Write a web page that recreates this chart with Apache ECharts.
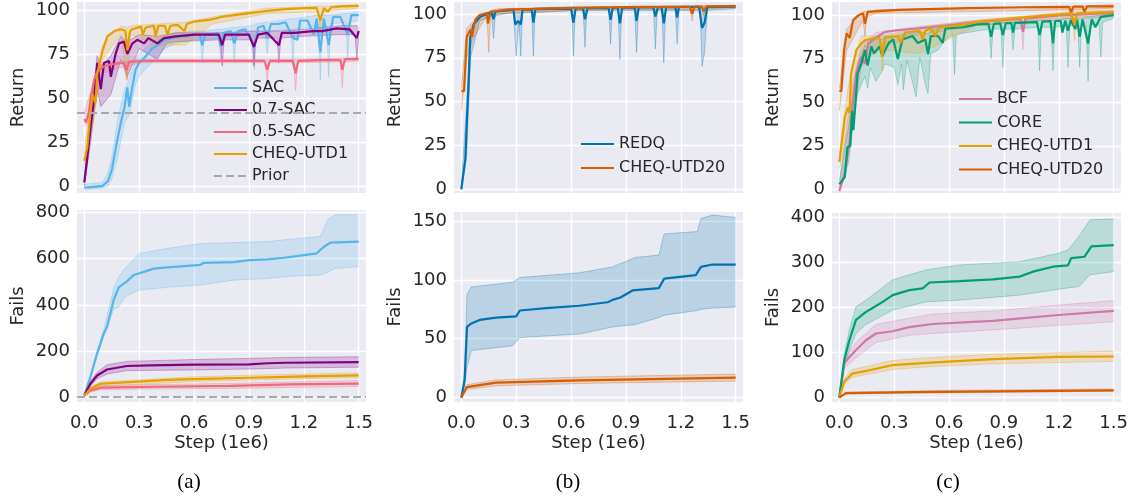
<!DOCTYPE html>
<html>
<head>
<meta charset="utf-8">
<script src="https://cdn.jsdelivr.net/npm/echarts@6/dist/echarts.min.js"></script>
<style>
  html, body { margin: 0; padding: 0; background: #fff; }
  #chart { width: 1133px; height: 498px; }
</style>
</head>
<body>
<div id="chart"></div>
<script>
// ---- ticks ----
var xTicks = [0, 0.3, 0.6, 0.9, 1.2, 1.5];
var retTicks = [0, 25, 50, 75, 100];
var failTicksA = [0, 200, 400, 600, 800];
var failTicksB = [0, 50, 100, 150];
var failTicksC = [0, 100, 200, 300, 400];

// ---- (a) return ----
var retSAC = [[0,-1],[0.05,-0.5],[0.1,0],[0.13,3],[0.15,9],[0.18,26],[0.2,36],[0.22,45],[0.235,56],[0.245,45],[0.26,55],[0.28,66],[0.3,70],[0.33,73],[0.37,78],[0.4,80],[0.44,83],[0.48,84],[0.52,85],[0.56,85],[0.6,86],[0.63,86],[0.645,80],[0.66,86],[0.7,86],[0.73,87],[0.745,79],[0.76,87],[0.8,88],[0.82,81],[0.84,88],[0.88,89],[0.93,79],[0.95,90],[0.98,91],[1.0,84],[1.02,92],[1.06,92],[1.1,93],[1.14,84],[1.165,83],[1.18,94],[1.22,94],[1.255,86],[1.27,95],[1.29,76],[1.31,95],[1.336,80],[1.36,96],[1.4,96],[1.44,86],[1.46,97],[1.5,97]];
var ret07SAC = [[0,2],[0.016,16],[0.035,34],[0.053,49],[0.071,70],[0.09,55],[0.108,70],[0.135,71],[0.145,62],[0.171,75],[0.19,81],[0.217,82],[0.235,75],[0.263,81],[0.29,83],[0.327,81],[0.35,84],[0.4,81],[0.436,84],[0.5,85],[0.6,86],[0.7,86],[0.735,86],[0.754,80],[0.77,86],[0.85,86],[0.9,86],[0.927,79],[0.95,86],[1.0,87],[1.064,80],[1.08,87],[1.15,87],[1.25,88],[1.3,88],[1.38,89.5],[1.45,89],[1.49,84],[1.5,88]];
var ret05SAC = [[0,38],[0.01,36],[0.025,42],[0.035,50],[0.053,60],[0.071,65],[0.108,68],[0.145,69],[0.217,70],[0.23,66],[0.245,70.5],[0.327,71],[0.5,71],[0.7,71],[0.9,71],[0.985,71],[1.0,66],[1.015,71],[1.14,71],[1.155,64],[1.17,71],[1.3,71.5],[1.4,71.5],[1.41,66],[1.425,72],[1.5,72]];
var retUTD1a = [[0,14],[0.016,22],[0.035,43],[0.045,52],[0.06,47],[0.071,64],[0.1,77],[0.126,85],[0.163,88],[0.2,89],[0.225,88],[0.235,77],[0.25,88],[0.263,89],[0.31,90.5],[0.32,86],[0.335,90],[0.38,91],[0.39,85],[0.405,91],[0.44,91],[0.455,86],[0.47,91],[0.51,91.5],[0.547,88],[0.56,92],[0.6,93.4],[0.69,94.5],[0.75,96],[0.85,97.5],[1.0,99.5],[1.1,100.5],[1.2,101],[1.27,101.2],[1.29,94],[1.31,101],[1.33,99],[1.35,101.5],[1.4,102],[1.5,102.3]];
var priorReturn = 41.8;
var priorFails = 0;
// bands: [x, low, high]
var bandRetSAC = [[0,-2,1],[0.1,-1,2],[0.13,0,8],[0.15,4,16],[0.18,15,36],[0.2,26,46],[0.22,36,55],[0.245,40,60],[0.28,58,72],[0.3,62,75],[0.33,66,78],[0.37,70,81],[0.4,74,83],[0.44,78,85],[0.5,81,87],[0.6,83,88],[0.635,83,88],[0.645,70,88],[0.655,83,88],[0.735,84,89],[0.745,72,89],[0.755,84,89],[0.81,85,90],[0.82,70,90],[0.83,85,90],[0.92,86,91],[0.93,66,92],[0.94,86,92],[0.99,87,93],[1.0,75,93],[1.01,88,93],[1.13,89,95],[1.14,68,95],[1.15,89,95],[1.28,91,97],[1.29,60,97],[1.3,91,97],[1.326,91,97],[1.336,62,97],[1.346,92,97],[1.43,93,98],[1.44,72,98],[1.45,93,98],[1.5,94,99]];
var bandRet07SAC = [[0,0,5],[0.035,25,42],[0.07,55,74],[0.09,45,68],[0.145,52,74],[0.2,72,85],[0.235,62,82],[0.3,78,86],[0.4,72,85],[0.45,81,86],[0.5,82,87],[0.744,83,87],[0.754,68,87],[0.764,83,87],[0.917,83,88],[0.927,68,88],[0.937,84,88],[1.054,84,88],[1.064,70,88],[1.074,84,88],[1.2,85,89],[1.4,86,91],[1.48,86,91],[1.49,72,91],[1.5,84,90]];
var bandRet05SAC = [[0,34,42],[0.03,36,52],[0.1,64,70],[0.22,68,71],[0.23,60,71],[0.24,68,71],[0.3,70,72],[0.99,70,72],[1.0,57,72],[1.01,70,72],[1.145,70,72],[1.155,54,72],[1.165,70,72],[1.4,70.5,72.5],[1.41,56,72.5],[1.42,70.5,72.5],[1.5,71,73]];
var bandRetUTD1a = [[0,12,18],[0.04,30,55],[0.1,72,80],[0.2,86,91],[0.235,60,90],[0.25,86,91],[0.4,80,92],[0.55,80,93],[0.7,92,96],[1.0,98,101],[1.28,99,102],[1.29,88,102],[1.3,99,102],[1.5,101,103]];

// ---- (a) fails ----
var failSAC = [[0,7],[0.033,87],[0.07,189],[0.106,276],[0.124,304],[0.16,420],[0.188,476],[0.224,496],[0.27,529],[0.325,543],[0.38,557],[0.456,562],[0.635,573],[0.65,582],[0.817,585],[0.9,594],[1.0,597],[1.09,604],[1.14,609],[1.27,623],[1.31,652],[1.347,670],[1.5,674]];
var fail07SAC = [[0,8],[0.033,58],[0.07,94],[0.124,120],[0.233,135],[0.36,138],[0.6,141],[0.9,142],[1.0,147],[1.1,149],[1.5,152]];
var fail05SAC = [[0,7],[0.033,29],[0.09,41],[0.4,45],[0.8,49],[1.12,55],[1.5,59]];
var failUTD1a = [[0,7],[0.033,36],[0.09,58],[0.27,66],[0.456,75],[0.6,78],[0.9,84],[1.2,90],[1.5,94]];
var bandFailSAC = [[0,5,10],[0.033,80,95],[0.07,180,200],[0.106,260,290],[0.16,380,470],[0.188,391,522],[0.224,435,560],[0.3,464,623],[0.456,476,645],[0.635,486,665],[0.817,507,670],[1.0,514,674],[1.12,524,684],[1.29,529,696],[1.33,540,768],[1.37,558,790],[1.5,565,790]];
var bandFail07SAC = [[0,5,12],[0.033,48,68],[0.07,80,108],[0.124,100,140],[0.233,115,155],[0.6,118,163],[0.9,122,168],[1.1,126,172],[1.5,130,175]];
var bandFail05SAC = [[0,5,10],[0.033,22,36],[0.09,32,50],[0.4,36,55],[0.8,38,60],[1.12,42,66],[1.5,46,72]];
var bandFailUTD1a = [[0,5,10],[0.033,28,44],[0.09,50,66],[0.3,55,75],[0.6,68,88],[0.9,74,95],[1.2,80,100],[1.5,84,105]];

// ---- (b) return ----
var retREDQ = [[0,0],[0.01,0.5],[0.022,17],[0.03,38],[0.04,61],[0.049,87],[0.058,89],[0.067,94],[0.104,98.5],[0.14,100],[0.165,101],[0.176,97],[0.186,101.4],[0.285,102.3],[0.295,94],[0.31,96],[0.325,94],[0.335,102.5],[0.385,102.5],[0.394,95],[0.405,102.7],[0.6,103],[0.613,95],[0.625,103.2],[0.665,103.2],[0.676,97],[0.69,103.3],[0.805,103.5],[0.816,96.6],[0.828,103.6],[0.855,103.6],[0.867,94.6],[0.88,103.6],[0.948,103.6],[0.958,96],[0.97,103.7],[1.05,103.8],[1.061,98.5],[1.075,103.8],[1.095,103.8],[1.107,94.6],[1.12,103.9],[1.17,103.9],[1.18,98],[1.19,104],[1.3,104],[1.316,92],[1.33,95],[1.345,104],[1.5,104.2]];
var retUTD20b = [[0,56],[0.015,56],[0.022,70],[0.03,87],[0.049,91],[0.058,87],[0.076,96.7],[0.1,99.4],[0.14,100.5],[0.145,94.5],[0.158,101],[0.25,102.5],[0.6,103.5],[1.0,104],[1.25,104],[1.262,100],[1.275,104.2],[1.315,104.2],[1.325,101.5],[1.34,104.3],[1.5,104.5]];
var bandRetREDQ = [[0,0,2],[0.03,20,50],[0.05,75,92],[0.1,96,99],[0.166,99,102],[0.176,86,102],[0.186,99,102],[0.285,101,103],[0.3,76,103],[0.315,96,103],[0.325,76,103],[0.335,101,103],[0.385,101,103],[0.394,76,103],[0.403,101,103.5],[0.603,102,104],[0.613,76,104],[0.623,102,104],[0.666,102,104],[0.676,81,104],[0.686,102,104],[0.806,102,104],[0.816,83,104],[0.826,102,104],[0.857,102,104],[0.867,74,104],[0.877,102,104],[0.948,102,104],[0.958,78,104],[0.968,102,104],[1.051,102,104],[1.061,80,104],[1.071,102,104],[1.097,102,104.5],[1.107,72,104.5],[1.117,102,104.5],[1.17,102,104.5],[1.18,83,104.5],[1.19,102,104.5],[1.306,102,104.5],[1.316,70,104.5],[1.33,78,104.5],[1.345,102,104.5],[1.5,103,105]];
var bandRetUTD20b = [[0,45,58],[0.03,75,92],[0.06,85,95],[0.14,99,101],[0.15,78,101],[0.16,99,102],[0.2,100,103],[0.8,102.5,104],[1.252,102.5,104],[1.262,96,104],[1.272,102.5,104],[1.315,103,104.5],[1.325,99,104.5],[1.335,103,104.5],[1.5,103.5,105]];

// ---- (b) fails ----
var failREDQ = [[0,0],[0.018,14.7],[0.031,60],[0.055,63],[0.1,66],[0.19,68],[0.3,69],[0.32,74],[0.464,76],[0.645,78],[0.8,81],[0.827,83],[0.87,85],[0.936,91],[1.08,93],[1.109,101],[1.282,104],[1.31,111],[1.373,113],[1.5,113]];
var failUTD20b = [[0,0],[0.03,9],[0.19,12.7],[0.645,14.7],[1.5,17]];
var bandFailREDQ = [[0,0,1],[0.018,10,20],[0.031,26,88],[0.055,40,94],[0.28,44,98],[0.32,51,102],[0.645,54,106],[0.827,60,111],[0.95,62,119],[1.08,68,121],[1.109,70,139],[1.29,74,141],[1.31,75,152],[1.373,76,155],[1.5,77,153]];
var bandFailUTD20b = [[0,0,1],[0.03,7,11],[0.19,10,15],[0.645,12,17.5],[1.5,14,20]];

// ---- (c) return ----
var retBCF = [[0,-1],[0.03,9],[0.057,28],[0.075,51],[0.093,66.6],[0.12,76],[0.14,72],[0.157,83.7],[0.2,87],[0.25,90.4],[0.32,91.3],[0.5,93],[0.75,96],[0.99,97.8],[1.004,90.4],[1.018,98],[1.2,99.8],[1.5,101.3]];
var retCORE = [[0,3],[0.03,7],[0.044,24],[0.06,25],[0.07,45],[0.077,34],[0.1,66.5],[0.12,72],[0.14,80],[0.155,71],[0.175,82],[0.19,78],[0.22,82],[0.235,76.5],[0.27,84],[0.295,86],[0.32,74.8],[0.345,86],[0.4,88],[0.43,84],[0.47,86],[0.485,77.6],[0.5,88],[0.54,88],[0.565,84],[0.58,92.3],[0.68,93],[0.75,94.7],[0.815,95],[0.83,87.5],[0.845,95],[0.88,95.2],[0.894,88.5],[0.91,95.3],[0.94,95.4],[0.95,90],[0.96,95.5],[1.08,96],[1.095,88.5],[1.11,96.2],[1.155,96.5],[1.168,83.7],[1.18,96.6],[1.21,96.7],[1.22,90],[1.235,96.8],[1.25,91],[1.265,97],[1.29,92],[1.3,97.3],[1.314,87.5],[1.33,97.5],[1.36,83.7],[1.38,97.7],[1.4,93],[1.43,99],[1.5,100]];
var retUTD1c = [[0,15.8],[0.011,24.8],[0.03,41.6],[0.048,47],[0.056,44],[0.064,66.5],[0.093,80],[0.12,83.7],[0.14,85.5],[0.2,87],[0.22,87],[0.235,76.5],[0.25,87],[0.32,88],[0.335,84],[0.36,90],[0.44,91],[0.455,86],[0.47,91],[0.5,92.5],[0.525,88],[0.545,93],[0.68,94.5],[0.75,96],[1.0,98.5],[1.27,101],[1.286,94.2],[1.3,101],[1.5,101.8]];
var retUTD20c = [[0,56.5],[0.011,56.5],[0.026,80],[0.04,89.4],[0.057,87],[0.075,97],[0.102,99.7],[0.13,101],[0.14,95],[0.155,101.8],[0.32,103],[0.7,104],[1.0,104.5],[1.255,104.7],[1.268,101.8],[1.28,104.8],[1.33,104.8],[1.34,102],[1.355,105],[1.5,105]];
var bandRetBCF = [[0,-2,2],[0.07,35,60],[0.12,70,82],[0.2,80,90],[0.4,88,93],[0.75,94,97],[0.994,96,99],[1.004,80,99],[1.014,96,99],[1.1,97,100],[1.5,99,102]];
var bandRetCORE = [[0,0,5],[0.05,15,35],[0.08,40,60],[0.1,55,72],[0.14,65,83],[0.155,58,80],[0.17,70,84],[0.2,62,86],[0.235,68,86],[0.25,72,88],[0.3,70,88],[0.32,60,88],[0.34,72,89],[0.35,57,89],[0.37,74,89],[0.42,53,90],[0.44,76,90],[0.47,60,90],[0.485,55,88],[0.5,78,92],[0.54,80,92],[0.58,86,93],[0.62,89,94],[0.63,66,94],[0.64,89,94],[0.82,92,95],[0.83,75,95],[0.84,92,95],[0.884,92,96],[0.894,70,96],[0.904,92,96],[0.94,92,96],[0.95,80,96],[0.96,92,96],[1.085,93,97],[1.095,68,97],[1.105,93,97],[1.158,93,97],[1.168,68,97],[1.178,93,97],[1.24,94,98],[1.25,70,98],[1.26,94,98],[1.304,94,98],[1.314,70,98],[1.324,94,98],[1.35,94,99],[1.36,62,99],[1.37,94,99],[1.42,95,100],[1.43,76,100],[1.44,96,100],[1.5,98,101]];
var bandRetUTD1c = [[0,12,20],[0.05,35,60],[0.12,75,88],[0.225,80,88],[0.235,68,88],[0.245,80,88],[0.44,78,93],[0.75,94,97],[1.276,99,102],[1.286,85,102],[1.296,99,102],[1.5,100,103]];
var bandRetUTD20c = [[0,45,58],[0.04,80,92],[0.13,97,102],[0.14,88,102],[0.15,99,102],[0.2,101,103],[1.258,103,105],[1.268,96,105],[1.278,103,105],[1.5,104,106]];

// ---- (c) fails ----
var failCORE = [[0,0],[0.027,83],[0.055,127],[0.091,172],[0.146,190],[0.2,203],[0.237,212],[0.292,227],[0.383,238],[0.456,242],[0.493,255],[0.657,258],[0.84,262],[0.985,268],[1.058,279],[1.168,290],[1.25,293],[1.268,309],[1.34,312],[1.378,335],[1.5,338]];
var failBCF = [[0,0],[0.027,76],[0.055,90],[0.09,105],[0.146,127],[0.2,142],[0.29,147],[0.383,156],[0.51,163],[0.84,170],[1.2,183],[1.5,192]];
var failUTD1c = [[0,0],[0.027,35],[0.07,53],[0.146,59],[0.29,72],[0.475,77],[0.84,85],[1.2,90],[1.5,91]];
var failUTD20c = [[0,0],[0.036,10],[0.4,12],[1.5,16]];
var bandFailCORE = [[0,0,1],[0.027,70,96],[0.055,105,150],[0.091,142,201],[0.146,162,216],[0.292,194,261],[0.475,212,283],[0.657,216,294],[0.985,227,301],[1.2,240,320],[1.25,243,327],[1.31,246,357],[1.37,272,394],[1.5,279,396]];
var bandFailBCF = [[0,0,1],[0.027,65,86],[0.09,88,122],[0.2,122,162],[0.383,138,176],[0.51,142,185],[0.84,150,192],[1.2,160,205],[1.5,168,215]];
var bandFailUTD1c = [[0,0,1],[0.027,28,42],[0.07,45,62],[0.29,62,82],[0.475,68,88],[0.84,75,96],[1.5,80,103]];
var bandFailUTD20c = [[0,0,1],[0.036,8,12],[0.6,11,16],[1.5,14,19]];

var C = {
    SAC: '#56B4E9', SAC07: '#800080', SAC05: '#F0687C', UTD1: '#E69F00',
    UTD20: '#D55E00', REDQ: '#0072B2', BCF: '#CC79A7', CORE: '#009E73', Prior: '#A9A9A9'
};
var FONT = 'DejaVu Sans';
var TXT = '#262626';

var chart = echarts.init(document.getElementById('chart'), null, { renderer: 'canvas' });

// grid boxes (px)
var grids = [
    { left: 77, top: 2, width: 289, height: 191 },
    { left: 77, top: 210, width: 289, height: 192 },
    { left: 454, top: 2, width: 289, height: 191 },
    { left: 454, top: 212, width: 289, height: 190 },
    { left: 832, top: 2, width: 289, height: 191 },
    { left: 832, top: 213, width: 289, height: 189 }
];
var yCfg = [
    { min: -4, max: 104.5, ticks: retTicks, name: 'Return' },
    { min: -21, max: 811, ticks: failTicksA, name: 'Fails' },
    { min: -2.1, max: 106.8, ticks: retTicks, name: 'Return' },
    { min: -3.7, max: 157.6, ticks: failTicksB, name: 'Fails' },
    { min: -2.1, max: 107.5, ticks: retTicks, name: 'Return' },
    { min: -9.8, max: 409, ticks: failTicksC, name: 'Fails' }
];

var gridOpt = grids.map(function(g) {
    return {
        left: g.left, top: g.top, width: g.width, height: g.height,
        show: true, backgroundColor: '#EAEAF2', borderWidth: 0,
        containLabel: false, outerBoundsMode: 'none'
    };
});

var xAxisOpt = grids.map(function(g, i) {
    var bottom = i % 2 === 1;
    return {
        type: 'value', gridIndex: i, min: -0.04, max: 1.54,
        axisLine: { show: false },
        axisTick: { show: false, customValues: xTicks },
        axisLabel: {
            show: bottom, customValues: xTicks, margin: 12,
            formatter: function(v) { return v.toFixed(1); },
            fontSize: 18, color: TXT, fontFamily: FONT
        },
        splitLine: { show: true, lineStyle: { color: '#ffffff', width: 1.3 } },
        name: bottom ? 'Step (1e6)' : '',
        nameLocation: 'middle', nameGap: 32,
        nameTextStyle: { fontSize: 18, color: TXT, fontFamily: FONT }
    };
});

var yAxisOpt = yCfg.map(function(c, i) {
    return {
        type: 'value', gridIndex: i, min: c.min, max: c.max,
        axisLine: { show: false },
        axisTick: { show: false, customValues: c.ticks },
        axisLabel: {
            customValues: c.ticks, margin: 7,
            fontSize: 18, color: TXT, fontFamily: FONT
        },
        splitLine: { show: true, lineStyle: { color: '#ffffff', width: 1.3 } },
        name: c.name, nameLocation: 'middle', nameGap: 50,
        nameTextStyle: { fontSize: 18, color: TXT, fontFamily: FONT }
    };
});

function line(name, data, color, g) {
    return {
        type: 'line', name: name, data: data, xAxisIndex: g, yAxisIndex: g,
        symbol: 'none', showSymbol: false, silent: true, z: 3,
        lineStyle: { color: color, width: 2.2 }, itemStyle: { color: color }
    };
}

// shaded band between low and high, drawn once through the axis scales
function band(rows, color, g) {
    return {
        type: 'custom', xAxisIndex: g, yAxisIndex: g, silent: true, z: 2, clip: true,
        data: rows,
        encode: { x: 0, y: [1, 2] },
        renderItem: function(params, api) {
            if (params.dataIndex !== 0) return null;
            var up = rows.map(function(r) { return api.coord([r[0], r[2]]); });
            var dn = rows.map(function(r) { return api.coord([r[0], r[1]]); });
            return {
                type: 'group',
                children: [
                    { type: 'polygon', shape: { points: up.concat(dn.slice().reverse()) },
                      style: { fill: color, opacity: 0.2 } },
                    { type: 'polyline', shape: { points: up },
                      style: { stroke: color, fill: null, lineWidth: 1, opacity: 0.3 } },
                    { type: 'polyline', shape: { points: dn },
                      style: { stroke: color, fill: null, lineWidth: 1, opacity: 0.3 } }
                ]
            };
        }
    };
}

function prior(value, g) {
    return {
        type: 'line', name: 'Prior', data: [], xAxisIndex: g, yAxisIndex: g,
        symbol: 'none', silent: true, z: 4,
        lineStyle: { color: C.Prior, width: 2, type: [8, 4] }, itemStyle: { color: C.Prior },
        markLine: {
            silent: true, symbol: ['none', 'none'], label: { show: false },
            animation: false,
            lineStyle: { color: C.Prior, width: 2, type: [8, 4] },
            data: [{ yAxis: value }]
        }
    };
}

var series = [
    // (a) return
    band(bandRetSAC, C.SAC, 0), band(bandRet07SAC, C.SAC07, 0),
    band(bandRet05SAC, C.SAC05, 0), band(bandRetUTD1a, C.UTD1, 0),
    line('SAC', retSAC, C.SAC, 0), line('0.7-SAC', ret07SAC, C.SAC07, 0),
    line('0.5-SAC', ret05SAC, C.SAC05, 0), line('CHEQ-UTD1', retUTD1a, C.UTD1, 0),
    prior(priorReturn, 0),
    // (a) fails
    band(bandFailSAC, C.SAC, 1), band(bandFail07SAC, C.SAC07, 1),
    band(bandFail05SAC, C.SAC05, 1), band(bandFailUTD1a, C.UTD1, 1),
    line('SAC', failSAC, C.SAC, 1), line('0.7-SAC', fail07SAC, C.SAC07, 1),
    line('0.5-SAC', fail05SAC, C.SAC05, 1), line('CHEQ-UTD1', failUTD1a, C.UTD1, 1),
    prior(priorFails, 1),
    // (b) return
    band(bandRetREDQ, C.REDQ, 2), band(bandRetUTD20b, C.UTD20, 2),
    line('REDQ', retREDQ, C.REDQ, 2), line('CHEQ-UTD20', retUTD20b, C.UTD20, 2),
    // (b) fails
    band(bandFailREDQ, C.REDQ, 3), band(bandFailUTD20b, C.UTD20, 3),
    line('REDQ', failREDQ, C.REDQ, 3), line('CHEQ-UTD20', failUTD20b, C.UTD20, 3),
    // (c) return
    band(bandRetBCF, C.BCF, 4), band(bandRetCORE, C.CORE, 4),
    band(bandRetUTD1c, C.UTD1, 4), band(bandRetUTD20c, C.UTD20, 4),
    line('BCF', retBCF, C.BCF, 4), line('CORE', retCORE, C.CORE, 4),
    line('CHEQ-UTD1', retUTD1c, C.UTD1, 4), line('CHEQ-UTD20', retUTD20c, C.UTD20, 4),
    // (c) fails
    band(bandFailCORE, C.CORE, 5), band(bandFailBCF, C.BCF, 5),
    band(bandFailUTD1c, C.UTD1, 5), band(bandFailUTD20c, C.UTD20, 5),
    line('BCF', failBCF, C.BCF, 5), line('CORE', failCORE, C.CORE, 5),
    line('CHEQ-UTD1', failUTD1c, C.UTD1, 5), line('CHEQ-UTD20', failUTD20c, C.UTD20, 5)
];

function legend(names, left, top, gap) {
    return {
        orient: 'vertical', left: left, top: top, data: names,
        itemWidth: 33, itemHeight: 14, itemGap: gap, padding: 0,
        selectedMode: false, itemStyle: { opacity: 0 },
        textStyle: { fontSize: 16, color: TXT, fontFamily: FONT, lineHeight: 16 }
    };
}

function caption(text, x) {
    return {
        type: 'text', x: x, y: 482,
        style: { text: text, font: '21px "Liberation Serif"', fill: '#000', align: 'center', verticalAlign: 'middle' }
    };
}

var option = {
    animation: false,
    backgroundColor: '#ffffff',
    grid: gridOpt,
    xAxis: xAxisOpt,
    yAxis: yAxisOpt,
    legend: [
        legend(['SAC', '0.7-SAC', '0.5-SAC', 'CHEQ-UTD1', 'Prior'], 213, 80, 6),
        legend(['REDQ', 'CHEQ-UTD20'], 580, 136, 8),
        legend(['BCF', 'CORE', 'CHEQ-UTD1', 'CHEQ-UTD20'], 958, 91, 7.5)
    ],
    graphic: [caption('(a)', 189), caption('(b)', 568), caption('(c)', 948)],
    series: series
};
chart.setOption(option);
</script>
</body>
</html>
